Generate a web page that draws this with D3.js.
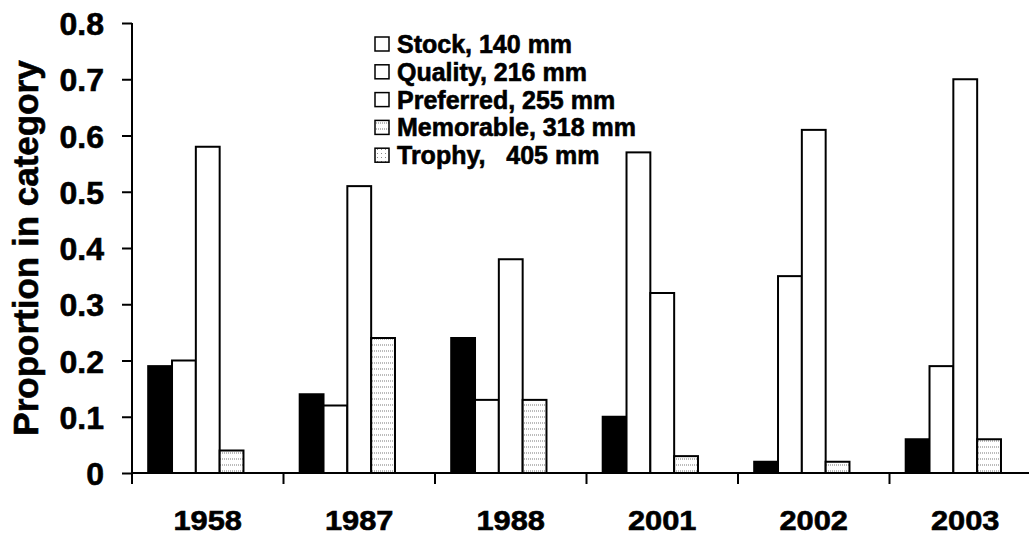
<!DOCTYPE html>
<html><head><meta charset="utf-8">
<script src="https://cdn.jsdelivr.net/npm/d3@7"></script>
<style>body{margin:0;background:#fff}svg{display:block}text{font-family:"Liberation Sans",Arial,sans-serif;font-weight:bold;fill:#000;stroke:#000;stroke-width:0.6px}</style>
</head><body><svg id="c" width="1029" height="540"></svg>
<script>
const categories = ["1958","1987","1988","2001","2002","2003"];
const seriesNames = ["Stock, 140 mm","Quality, 216 mm","Preferred, 255 mm","Memorable, 318 mm","Trophy,   405 mm"];
const stock     = [0.19,0.14,0.24,0.10,0.02,0.06];
const quality   = [0.20,0.12,0.13,0.57,0.35,0.19];
const preferred = [0.58,0.51,0.38,0.32,0.61,0.70];
const memorable = [0.04,0.24,0.13,0.03,0.02,0.06];
const trophy    = [0,0,0,0,0,0];
const yTicks = [0,0.1,0.2,0.3,0.4,0.5,0.6,0.7,0.8];
const yTickLabels = ["0","0.1","0.2","0.3","0.4","0.5","0.6","0.7","0.8"];
const yTitle = "Proportion in category";

const series = [stock,quality,preferred,memorable,trophy];
const fills = ["#000","#fff","#fff","url(#pMem)","url(#pTro)"];

const svg = d3.select("#c");
const defs = svg.append("defs");
const pm = defs.append("pattern").attr("id","pMem").attr("patternUnits","userSpaceOnUse").attr("width",6).attr("height",6);
pm.append("rect").attr("width",6).attr("height",6).attr("fill","#fff");
pm.append("line").attr("x1",0).attr("x2",6).attr("y1",3).attr("y2",3).attr("stroke","#777").attr("stroke-width",1).attr("stroke-dasharray","1,1");
const pt = defs.append("pattern").attr("id","pTro").attr("patternUnits","userSpaceOnUse").attr("width",4).attr("height",4);
pt.append("rect").attr("width",4).attr("height",4).attr("fill","#fff");
pt.append("rect").attr("x",1).attr("y",1).attr("width",1).attr("height",1).attr("fill","#888");

const x0 = 132, x1 = 1041, yTop = 23, yBot = 473;
const x = d3.scaleBand().domain(categories).range([x0,x1]).paddingInner(0).paddingOuter(0);
const xs = d3.scaleBand().domain(d3.range(series.length)).range([0,x.bandwidth()]).paddingInner(0).paddingOuter(0.68);
const y = d3.scaleLinear().domain([0,0.8]).range([yBot,yTop]);

// bars
series.forEach((vals,si)=>{
  svg.append("g").selectAll("rect").data(vals).join("rect")
    .attr("x",(d,i)=>x(categories[i])+xs(si))
    .attr("y",d=>y(d))
    .attr("width",xs.bandwidth())
    .attr("height",d=>y(0)-y(d))
    .attr("fill",fills[si])
    .attr("stroke","#000").attr("stroke-width",d=>d>0?2:0);
});

// y axis
const ya = svg.append("g").attr("transform",`translate(${x0},0)`)
  .call(d3.axisLeft(y).tickValues(yTicks).tickSize(10).tickFormat((d,i)=>yTickLabels[i]).tickPadding(18));
ya.select(".domain").attr("stroke-width",2).attr("d",`M0,${yTop}V${yBot}`);
ya.selectAll(".tick line").attr("stroke-width",2);
ya.selectAll(".tick text").style("font-size","32px").attr("dy","0.36em");

// x axis
const xa = svg.append("g").attr("transform",`translate(0,${yBot})`);
xa.append("line").attr("x1",x0-1).attr("x2",1029).attr("y1",0).attr("y2",0).attr("stroke","#000").attr("stroke-width",2);
xa.selectAll("line.t").data(categories.concat(["end"])).join("line").attr("class","t")
  .attr("x1",(d,i)=>i<categories.length?x(d):x1).attr("x2",(d,i)=>i<categories.length?x(d):x1)
  .attr("y1",0).attr("y2",11).attr("stroke","#000").attr("stroke-width",2);
xa.selectAll("text").data(categories).join("text")
  .attr("x",d=>x(d)+x.bandwidth()/2).attr("y",57)
  .attr("text-anchor","middle").style("font-size","28px")
  .attr("transform",d=>{const cx=x(d)+x.bandwidth()/2;return `translate(${cx},0) scale(1.1,1) translate(${-cx},0)`;})
  .text(d=>d);

// y title
svg.append("text").attr("transform",`translate(38,248) rotate(-90)`)
  .attr("text-anchor","middle").style("font-size","35px").text(yTitle);

// legend
const lg = svg.append("g");
seriesNames.forEach((n,i)=>{
  const cy = 44 + i*27.8;
  lg.append("rect").attr("x",375).attr("y",cy-7).attr("width",14).attr("height",14)
    .attr("fill",i===0?"#fff":fills[i]).attr("stroke","#000").attr("stroke-width",1.5);
  lg.append("text").attr("x",397).attr("y",cy+9).style("font-size","25px").attr("xml:space","preserve").style("white-space","pre").text(n);
});
</script></body></html>
